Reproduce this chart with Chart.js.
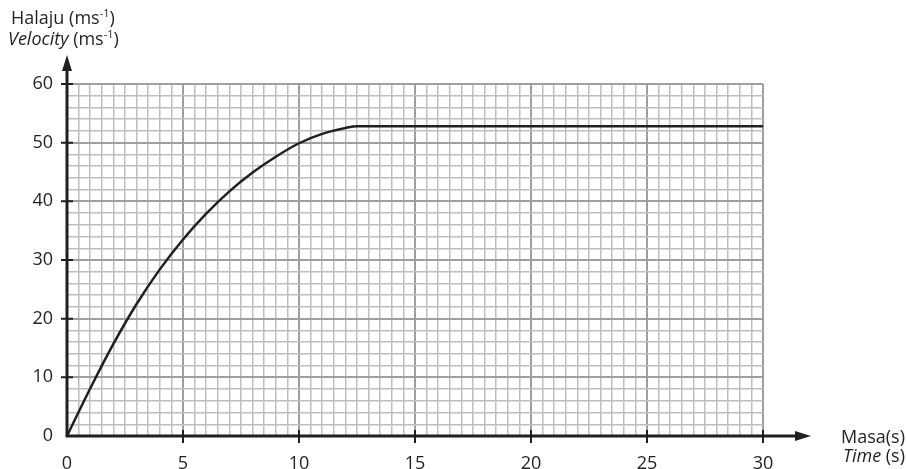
<!DOCTYPE html>
<html>
<head>
<meta charset="utf-8">
<script src="https://cdn.jsdelivr.net/npm/chart.js@4"></script>
<style>
  html, body { margin: 0; padding: 0; background: #fff; }
  #wrap { width: 906px; height: 469px; }
</style>
</head>
<body>
<div id="wrap"><canvas id="velChart" width="906" height="469"></canvas></div>
<script>
// time (s) and velocity (m/s)
const timeValues = [0, 1, 2, 3, 4, 5, 6, 7, 8, 9, 10, 11, 12, 12.5, 30];
const velocityValues = [0, 8.1, 15.7, 22.5, 28.4, 33.5, 37.9, 41.7, 44.9, 47.6, 49.9, 51.5, 52.5, 52.8, 52.8];
const xTickLabels = [0, 5, 10, 15, 20, 25, 30];
const yTickLabels = [0, 10, 20, 30, 40, 50, 60];

const ink = '#231f20';
const fontFam = '"Open Sans", "DejaVu Sans", sans-serif';

// axes, arrows, tick marks and axis titles
const axesPlugin = {
    id: 'axesPlugin',
    afterDatasetsDraw(chart) {
        const ctx = chart.ctx;
        const xs = chart.scales.x, ys = chart.scales.y;
        const x0 = xs.getPixelForValue(0), y0 = ys.getPixelForValue(0);
        ctx.save();
        ctx.strokeStyle = ink;
        ctx.fillStyle = ink;
        ctx.lineWidth = 3;
        ctx.beginPath();
        ctx.moveTo(x0, y0 + 1.5);
        ctx.lineTo(x0, 66);
        ctx.moveTo(x0 - 1.5, y0);
        ctx.lineTo(798, y0);
        ctx.stroke();
        // arrow heads
        ctx.beginPath();
        ctx.moveTo(x0, 55);
        ctx.lineTo(x0 - 5, 71);
        ctx.lineTo(x0 + 5, 71);
        ctx.closePath();
        ctx.fill();
        ctx.beginPath();
        ctx.moveTo(811, y0);
        ctx.lineTo(795, y0 - 5);
        ctx.lineTo(795, y0 + 5);
        ctx.closePath();
        ctx.fill();
        // tick marks
        ctx.lineWidth = 2;
        ctx.beginPath();
        yTickLabels.forEach(v => {
            if (v === 0) return;
            const py = ys.getPixelForValue(v);
            ctx.moveTo(x0 - 6, py);
            ctx.lineTo(x0 + 6, py);
        });
        xTickLabels.forEach(v => {
            if (v === 0) return;
            const px = xs.getPixelForValue(v);
            ctx.moveTo(px, y0 - 6);
            ctx.lineTo(px, y0 + 7);
        });
        ctx.stroke();

        // titles with superscript
        const drawParts = (parts, x, y, align) => {
            let total = 0;
            parts.forEach(p => { ctx.font = p.font; total += ctx.measureText(p.t).width; });
            let cx = align === 'right' ? x - total : x;
            ctx.textAlign = 'left';
            ctx.textBaseline = 'alphabetic';
            parts.forEach(p => {
                ctx.font = p.font;
                ctx.fillText(p.t, cx, y + (p.dy || 0));
                cx += ctx.measureText(p.t).width;
            });
        };
        const reg = '18px ' + fontFam, ita = 'italic 18px ' + fontFam, sup = '11px ' + fontFam;
        drawParts([{t: 'Halaju (ms', font: reg}, {t: '-1', font: sup, dy: -7}, {t: ')', font: reg}], 11, 24, 'left');
        drawParts([{t: 'Velocity', font: ita}, {t: ' (ms', font: reg}, {t: '-1', font: sup, dy: -7}, {t: ')', font: reg}], 8, 45, 'left');
        drawParts([{t: 'Masa(s)', font: reg}], 905, 443, 'right');
        drawParts([{t: 'Time', font: ita}, {t: ' (s)', font: reg}], 905, 462, 'right');
        ctx.restore();
    }
};

const ctxV = document.getElementById('velChart').getContext('2d');
const velChart = new Chart(ctxV, {
    type: 'line',
    data: {
        datasets: [{
            data: timeValues.map((t, i) => ({x: t, y: velocityValues[i]})),
            borderColor: ink,
            borderWidth: 2.5,
            pointRadius: 0,
            cubicInterpolationMode: 'monotone',
            fill: false
        }]
    },
    options: {
        responsive: false,
        animation: false,
        layout: { padding: { left: 0, right: 143, top: 84, bottom: 0 } },
        plugins: { legend: { display: false }, tooltip: { enabled: false } },
        scales: {
            x: {
                type: 'linear',
                min: 0, max: 30,
                afterFit(scale) { scale.height = 33; },
                afterBuildTicks(scale) {
                    const t = [];
                    for (let v = 0; v <= 30; v += 0.5) t.push({value: v});
                    scale.ticks = t;
                },
                border: { display: false },
                grid: {
                    drawTicks: false,
                    color: c => (c.tick.value % 5 === 0 ? '#9d9fa2' : '#bcbec0'),
                    lineWidth: c => (c.tick.value % 5 === 0 ? 2 : 1.5)
                },
                ticks: {
                    autoSkip: false,
                    maxRotation: 0,
                    padding: 17,
                    color: ink,
                    font: { family: fontFam, size: 18 },
                    callback: v => (xTickLabels.includes(v) ? String(v) : '')
                }
            },
            y: {
                min: 0, max: 60,
                afterFit(scale) { scale.width = 67; },
                afterBuildTicks(scale) {
                    const t = [];
                    for (let v = 0; v <= 60; v += 2) t.push({value: v});
                    scale.ticks = t;
                },
                border: { display: false },
                grid: {
                    drawTicks: false,
                    color: c => (c.tick.value % 10 === 0 ? '#9d9fa2' : '#bcbec0'),
                    lineWidth: c => (c.tick.value % 10 === 0 ? 2 : 1.5)
                },
                ticks: {
                    autoSkip: false,
                    padding: 14,
                    color: ink,
                    font: { family: fontFam, size: 18 },
                    callback: v => (yTickLabels.includes(v) ? String(v) : '')
                }
            }
        }
    },
    plugins: [axesPlugin]
});
</script>
</body>
</html>
